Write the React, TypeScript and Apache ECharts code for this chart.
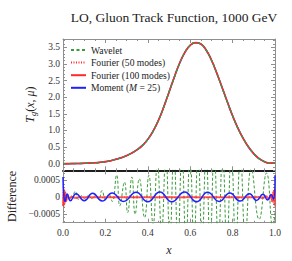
import React, { useEffect, useRef } from 'react';
import * as echarts from 'echarts';

// ---------- data ----------
const TITLE = 'LO, Gluon Track Function, 1000 GeV';
const SERIES_NAMES = ['Wavelet', 'Fourier (50 modes)', 'Fourier (100 modes)', 'Moment (M = 25)'];

// Top panel: T_g(x, mu)
const topX = [0, 0.025, 0.05, 0.075, 0.1, 0.125, 0.15, 0.175, 0.2, 0.225, 0.25, 0.275, 0.3, 0.325, 0.35, 0.375, 0.4, 0.425, 0.45, 0.475, 0.5, 0.525, 0.55, 0.575, 0.6, 0.625, 0.65, 0.675, 0.7, 0.725, 0.75, 0.775, 0.8, 0.825, 0.85, 0.875, 0.9, 0.925, 0.95, 0.975, 1];
const topT = [0, 0, 0.002, 0.005, 0.01, 0.016, 0.025, 0.04, 0.06, 0.09, 0.13, 0.18, 0.24, 0.32, 0.42, 0.55, 0.73, 0.98, 1.3, 1.7, 2.15, 2.6, 3.02, 3.35, 3.56, 3.64, 3.6, 3.42, 3.12, 2.73, 2.3, 1.86, 1.44, 1.07, 0.76, 0.5, 0.3, 0.15, 0.06, 0.015, 0.02];

// Difference panel (values in units of 1e-4)
const waveletDiffX = [0, 0.015, 0.03, 0.045, 0.058, 0.072, 0.088, 0.105, 0.12, 0.137, 0.152, 0.168, 0.184, 0.2, 0.216, 0.232, 0.253, 0.268, 0.29, 0.305, 0.325, 0.34, 0.36, 0.385, 0.405, 0.425, 0.445, 0.465, 0.485, 0.504, 0.523, 0.542, 0.561, 0.58, 0.599, 0.618, 0.637, 0.656, 0.675, 0.694, 0.713, 0.733, 0.753, 0.773, 0.794, 0.815, 0.837, 0.86, 0.888, 0.925, 0.96, 0.99, 1];
const waveletDiffY = [0, 0.6, -0.4, 0.3, 1.8, -0.6, 0.5, -0.5, 0.6, -0.4, 0.5, -0.6, 2.0, -0.7, 0.9, -1.2, 6.6, -2.5, 4.5, -4.5, 6.0, -5.0, 5.5, -6.0, 6.5, -8.0, 10, -10, 12, -12, 13, -13, 13, -13, 13, -13, 13, -13, 13, -13, 13, -13, 13, -13, 13, -13, 12, -11, 8.5, -6.5, 7.2, -9, -4];

const momentDiffX = [0, 0.004, 0.01, 0.02, 0.035, 0.062, 0.1, 0.14, 0.185, 0.232, 0.285, 0.345, 0.4, 0.457, 0.513, 0.574, 0.63, 0.682, 0.737, 0.787, 0.835, 0.88, 0.913, 0.943, 0.965, 0.982, 0.993, 1];
const momentDiffY = [6.0, 0.5, -1.2, 1.0, -1.0, 1.1, -1.0, 1.2, -1.1, 1.3, -1.2, 1.5, -1.3, 1.6, -1.3, 1.6, -1.3, 1.5, -1.2, 1.3, -1.1, 1.1, -0.9, 0.9, -0.8, 0.8, -0.6, 6.5];

const fourier100DiffX = [0, 0.003, 0.007, 0.011, 0.016, 0.022, 0.03, 0.04, 0.055, 0.08, 0.2, 0.4, 0.6, 0.8, 0.92, 0.945, 0.958, 0.97, 0.979, 0.987, 0.993, 0.997, 1];
const fourier100DiffY = [-2.6, 2.4, -2.0, 1.5, -1.0, 0.6, -0.35, 0.2, -0.1, 0.05, 0, 0, 0, 0, 0.05, -0.15, 0.3, -0.5, 0.8, -1.2, 1.7, -2.2, 2.4];

const fourier50DiffX = [0, 0.004, 0.009, 0.015, 0.022, 0.03, 0.04, 0.06, 0.08, 0.1, 0.12, 0.14, 0.16, 0.18, 0.2, 0.25, 0.3, 0.35, 0.4, 0.45, 0.5, 0.55, 0.6, 0.65, 0.7, 0.75, 0.8, 0.85, 0.88, 0.9, 0.92, 0.94, 0.955, 0.968, 0.978, 0.986, 0.993, 1];
const fourier50DiffY = [3.0, -2.8, 2.0, -1.4, 0.9, -0.6, 0.4, -0.3, 0.25, -0.2, 0.2, -0.2, 0.15, -0.15, 0.15, -0.1, 0.1, -0.1, 0.1, -0.1, 0.1, -0.1, 0.1, -0.1, 0.1, -0.1, 0.1, -0.15, 0.15, -0.2, 0.25, -0.35, 0.5, -0.7, 1.0, -1.4, 2.0, -2.8];

// Tick labels
const xTickValues = [0, 0.2, 0.4, 0.6, 0.8, 1.0];
const xTickLabels = ['0.0', '0.2', '0.4', '0.6', '0.8', '1.0'];
const topTickValues = [0, 0.5, 1, 1.5, 2, 2.5, 3, 3.5];
const topTickLabels = ['0.0', '0.5', '1.0', '1.5', '2.0', '2.5', '3.0', '3.5'];
const diffTickValues = [-5, 0, 5];
const diffTickLabels = ['\u22120.0005', '0', '0.0005'];
const diffMinorTicks = [-7, -6, -4, -3, -2, -1, 1, 2, 3, 4, 6, 7];

// ---------- styles ----------
const FONT = "'Liberation Serif', 'DejaVu Serif', serif";
const GREEN = '#3a9b3a';
const RED = '#ff2b2b';
const BLUE = '#2020ff';
const FRAME = '#8f8f8f';
const DIVIDER = '#111111';
const TEXT = '#333333';

const zip = (xs: number[], ys: number[]) => xs.map((x, i) => [x, ys[i]]);
const labelFor = (values: number[], labels: string[]) => (v: number) => {
  const i = values.findIndex((t) => Math.abs(t - v) < 1e-6);
  return i >= 0 ? labels[i] : '';
};

export default function App() {
  const ref = useRef<HTMLDivElement>(null);

  useEffect(() => {
    if (!ref.current) return;
    const chart = echarts.init(ref.current, undefined, { renderer: 'svg' });

    const tickBase = { inside: true, lineStyle: { color: FRAME, width: 1 } };

    const xAxisDef = (gridIndex: number, position: 'top' | 'bottom', lineColor: string, lineWidth: number, labels: boolean, name?: string) => ({
      type: 'value',
      gridIndex,
      position,
      min: 0,
      max: 1,
      interval: 0.2,
      axisLine: { show: true, onZero: false, lineStyle: { color: lineColor, width: lineWidth } },
      axisTick: { ...tickBase, length: 4 },
      minorTick: { show: true, splitNumber: 4, length: 2, lineStyle: { color: FRAME, width: 1 } },
      splitLine: { show: false },
      axisLabel: {
        show: labels,
        margin: 5,
        fontSize: 9.5,
        fontFamily: FONT,
        color: TEXT,
        formatter: labelFor(xTickValues, xTickLabels),
      },
      name: name || '',
      nameLocation: 'middle',
      nameGap: 20,
      nameTextStyle: { fontFamily: FONT, fontSize: 12, fontStyle: 'italic', color: '#222' },
    });

    const yAxisMain = (gridIndex: number, position: 'left' | 'right', min: number, max: number, interval: number, showLabels: boolean, tickValues: number[], tickLabels: string[], minorCustom?: number[], extra: any = {}) => ({
      type: 'value',
      gridIndex,
      position,
      min,
      max,
      interval,
      axisLine: { show: true, onZero: false, lineStyle: { color: FRAME, width: 1 } },
      axisTick: minorCustom ? { ...tickBase, length: 2, customValues: minorCustom } : { ...tickBase, length: 2 },
      splitLine: { show: false },
      axisLabel: {
        show: showLabels,
        customValues: tickValues,
        margin: 3,
        fontSize: 9.5,
        fontFamily: FONT,
        color: TEXT,
        formatter: labelFor(tickValues, tickLabels),
      },
      ...extra,
    });

    const yAxisMajor = (gridIndex: number, position: 'left' | 'right', min: number, max: number, tickValues: number[]) => ({
      type: 'value',
      gridIndex,
      position,
      min,
      max,
      axisLine: { show: false, onZero: false },
      axisTick: { ...tickBase, length: 4, customValues: tickValues },
      axisLabel: { show: false },
      splitLine: { show: false },
    });

    const lineSeries = (name: string, data: number[][], xAxisIndex: number, yAxisIndex: number, color: string, width: number, type: any, opacity = 1) => ({
      type: 'line',
      name,
      data,
      xAxisIndex,
      yAxisIndex,
      smooth: true,
      symbol: 'none',
      showSymbol: false,
      clip: true,
      lineStyle: { color, width, type, opacity },
      itemStyle: { color },
      emphasis: { disabled: true },
    });

    const option: any = {
      animation: false,
      backgroundColor: '#ffffff',
      title: {
        text: TITLE,
        left: 169,
        top: 5,
        textAlign: 'center',
        textStyle: { fontFamily: FONT, fontSize: 13.5, fontWeight: 'normal', color: '#222' },
      },
      legend: {
        data: SERIES_NAMES,
        orient: 'vertical',
        left: 70,
        top: 44.5,
        padding: 0,
        itemWidth: 15,
        itemHeight: 8,
        itemGap: 1.6,
        selectedMode: false,
        itemStyle: { opacity: 0 },
        formatter: (n: string) => (n === 'Moment (M = 25)' ? 'Moment ({it|M} = 25)' : n),
        textStyle: {
          fontFamily: FONT,
          fontSize: 9.6,
          lineHeight: 11,
          color: '#222',
          rich: { it: { fontFamily: FONT, fontSize: 9.6, fontStyle: 'italic', color: '#222' } },
        },
      },
      grid: [
        { left: 63, top: 39, width: 212, height: 131.3, containLabel: false, outerBoundsMode: 'none' },
        { left: 63, top: 170.3, width: 212, height: 52.4, containLabel: false, outerBoundsMode: 'none' },
      ],
      xAxis: [
        xAxisDef(0, 'bottom', DIVIDER, 1.5, false),
        xAxisDef(0, 'top', FRAME, 1, false),
        { ...xAxisDef(1, 'bottom', FRAME, 1, true, 'x'), nameGap: 21 },
        xAxisDef(1, 'top', DIVIDER, 1.5, false),
      ],
      yAxis: [
        yAxisMain(0, 'left', -0.2, 3.75, 0.1, true, topTickValues, topTickLabels, undefined, {
          name: '{t|T}{s|g}{n|(}{t|x}{n|, }{t|\u03bc}{n|)}',
          nameLocation: 'middle',
          nameGap: 20,
          nameTextStyle: {
            fontFamily: FONT,
            fontSize: 12,
            color: '#222',
            rich: {
              t: { fontFamily: FONT, fontSize: 12, fontStyle: 'italic', color: '#222' },
              s: { fontFamily: FONT, fontSize: 8.5, fontStyle: 'italic', color: '#222', padding: [6, 0, 0, 0] },
              n: { fontFamily: FONT, fontSize: 12, color: '#222' },
            },
          },
        }),
        yAxisMajor(0, 'left', -0.2, 3.75, topTickValues),
        yAxisMain(0, 'right', -0.2, 3.75, 0.1, false, topTickValues, topTickLabels),
        yAxisMajor(0, 'right', -0.2, 3.75, topTickValues),
        yAxisMain(1, 'left', -7.5, 8, 2.5, true, diffTickValues, diffTickLabels, diffMinorTicks, {
          name: 'Difference',
          nameLocation: 'middle',
          nameGap: 40,
          nameTextStyle: { fontFamily: FONT, fontSize: 12, color: '#222' },
        }),
        yAxisMajor(1, 'left', -7.5, 8, diffTickValues),
        yAxisMain(1, 'right', -7.5, 8, 2.5, false, diffTickValues, diffTickLabels, diffMinorTicks),
        yAxisMajor(1, 'right', -7.5, 8, diffTickValues),
      ],
      series: [
        // top panel
        lineSeries(SERIES_NAMES[3], zip(topX, topT), 0, 0, BLUE, 1.5, 'solid'),
        lineSeries(SERIES_NAMES[2], zip(topX, topT), 0, 0, RED, 1.6, 'solid'),
        lineSeries(SERIES_NAMES[1], zip(topX, topT), 0, 0, RED, 1, [1, 1.5]),
        lineSeries(SERIES_NAMES[0], zip(topX, topT), 0, 0, GREEN, 1.4, [3, 2.5]),
        // difference panel
        lineSeries(SERIES_NAMES[0], zip(waveletDiffX, waveletDiffY), 2, 4, GREEN, 1, [3, 2]),
        lineSeries(SERIES_NAMES[1], zip(fourier50DiffX, fourier50DiffY), 2, 4, RED, 1, [1, 1.5]),
        lineSeries(SERIES_NAMES[2], zip(fourier100DiffX, fourier100DiffY), 2, 4, RED, 2, 'solid', 0.75),
        lineSeries(SERIES_NAMES[3], zip(momentDiffX, momentDiffY), 2, 4, BLUE, 1.5, 'solid'),
      ],
    };

    chart.setOption(option);
    return () => chart.dispose();
  }, []);

  return <div ref={ref} style={{ position: 'absolute', left: 0, top: 0, width: 292, height: 261 }} />;
}
